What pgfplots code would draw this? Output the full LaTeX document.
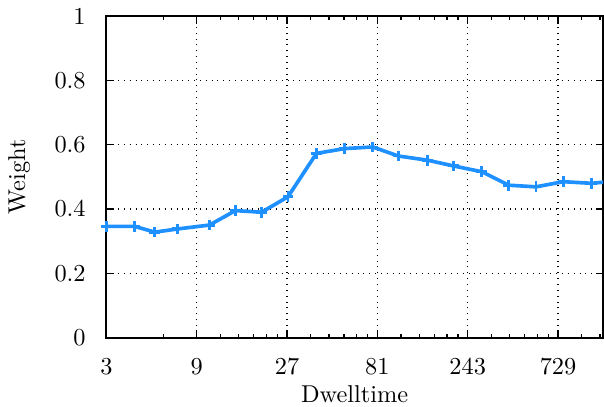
\documentclass[border=0pt]{standalone}
\usepackage{pgfplots}
\pgfplotsset{compat=1.18}
\definecolor{dodger}{RGB}{30,144,255}

\begin{document}
\begin{tikzpicture}
\begin{axis}[
    scale only axis,
    width=204pt,
    height=132pt,
    xmode=log,
    log basis x=3,
    xmin=3, xmax=1260,
    ymin=0, ymax=1,
    xtick={3,9,27,81,243,729},
    xticklabels={3,9,27,81,243,729},
    extra x ticks={6,12,15,18,21,24,36,45,54,63,72,108,135,162,189,216,324,405,486,567,648,972,1215},
    extra x tick labels={},
    extra x tick style={grid=none, major tick length=1.6pt, xticklabel style={overlay}},
    ytick={0,0.2,0.4,0.6,0.8,1},
    yticklabels={0,0.2,0.4,0.6,0.8,1},
    xmajorgrids, ymajorgrids,
    major grid style={black, dotted, line width=0.5pt},
    axis line style={line width=0.8pt},
    tick style={black, line width=0.6pt},
    major tick length=3pt,
    xticklabel style={yshift=-4.8pt},
    yticklabel style={xshift=-5pt},
    xlabel={Dwelltime},
    ylabel={Weight},
    xlabel style={inner ysep=1.4pt, yshift=0.5pt},
    ylabel style={yshift=3.2pt},
]
\addplot[color=dodger, line width=1.5pt, mark=+, mark size=2.2pt,
    mark options={line width=1.2pt}] coordinates {
    (3,0.346)
    (4.23,0.346)
    (5.40,0.328)
    (7.14,0.338)
    (10.5,0.350)
    (14.4,0.395)
    (19.8,0.390)
    (27.3,0.438)
    (38.6,0.573)
    (54.3,0.588)
    (76.6,0.593)
    (104.4,0.565)
    (148.8,0.552)
    (204.6,0.534)
    (288.4,0.516)
    (400.8,0.474)
    (557.7,0.469)
    (777,0.485)
    (1094,0.480)
    (1540,0.488)
};
\end{axis}
\end{tikzpicture}
\end{document}
